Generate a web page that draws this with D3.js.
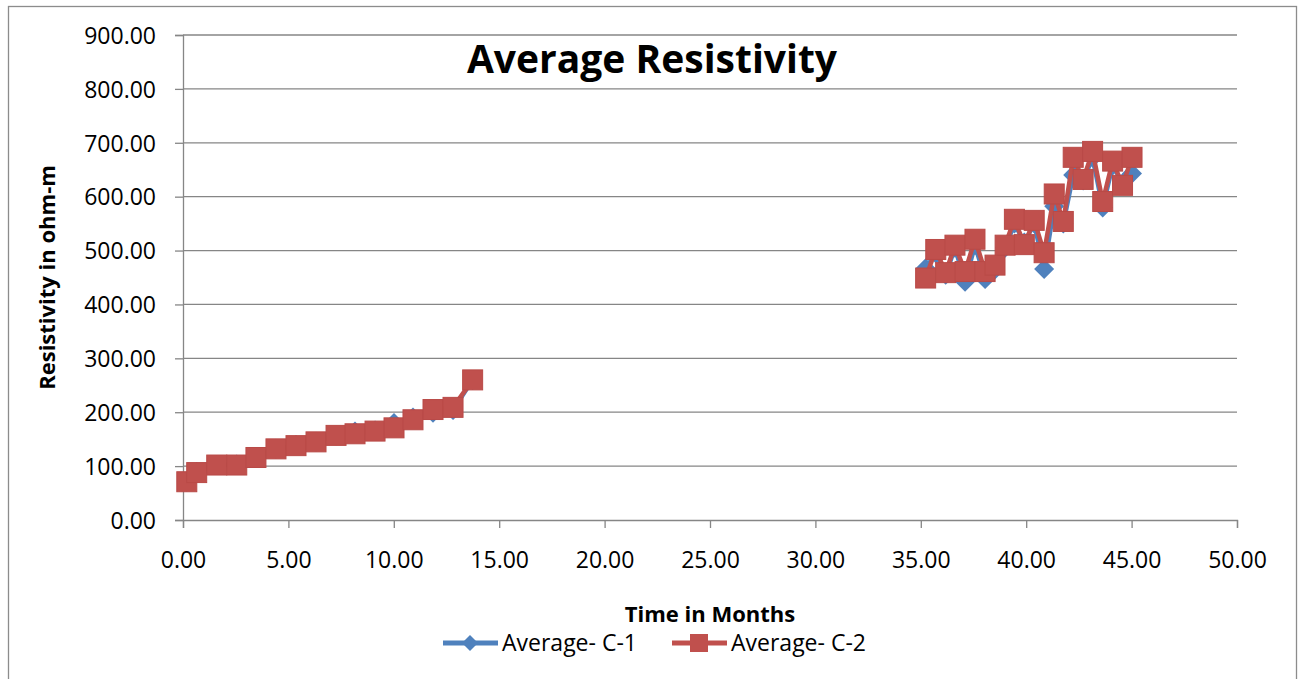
<!DOCTYPE html>
<html>
<head>
<meta charset="utf-8">
<script src="https://cdn.jsdelivr.net/npm/d3@7"></script>
<style>
	body { margin: 0; background: #ffffff; }
	svg { display: block; }
	text { font-family: "Open Sans", sans-serif; fill: #000; }
</style>
</head>
<body>
<script>
// months (null = empty cells between the two measuring campaigns)
var months = [0.18, 0.65, 1.60, 2.55, 3.46, 4.41, 5.36, 6.31, 7.26, 8.16, 9.11, 10.01, 10.91, 11.86, 12.81, 13.74,
	null,
	35.23, 35.71, 36.18, 36.62, 37.10, 37.57, 38.05, 38.52, 39.00, 39.44, 39.91, 40.38, 40.85, 41.33, 41.76,
	42.23, 42.70, 43.15, 43.63, 44.10, 44.57, 45.02];

var averageC1 = [71, 89, 102, 103, 116, 132, 139, 145, 157, 164, 166, 180, 190, 199, 204, 260,
	null,
	467, 495, 455, 505, 442, 510, 447, 465, 505, 550, 515, 550, 466, 582, 550,
	640, 630, 672, 580, 658, 625, 643];

var averageC2 = [71, 88, 102, 102, 116, 132, 138, 145, 157, 160, 165, 171, 186, 205, 209, 260,
	null,
	449, 502, 459, 510, 461, 521, 461, 473, 510, 558, 511, 556, 496, 605, 554,
	673, 632, 684, 591, 666, 621, 673];

var seriesNames = ["Average- C-1", "Average- C-2"];
var seriesColors = ["#4F81BD", "#C0504D"];
var xTicks = [0, 5, 10, 15, 20, 25, 30, 35, 40, 45, 50];
var yTicks = [0, 100, 200, 300, 400, 500, 600, 700, 800, 900];

var width = 1299, height = 679;
var plot = {left: 183, right: 1237, top: 35, bottom: 520};

var svg = d3.select("body").append("svg").attr("width", width).attr("height", height);

// chart frame
svg.append("rect")
	.attr("x", 8.5).attr("y", 6.5)
	.attr("width", 1288).attr("height", 700)
	.attr("fill", "#fff").attr("stroke", "#8c8c8c").attr("stroke-width", 1.3);

var x = d3.scaleLinear().domain([0, 50]).range([plot.left, plot.right]);
var y = d3.scaleLinear().domain([0, 900]).range([plot.bottom, plot.top]);

// gridlines
svg.append("g").selectAll("line")
	.data(yTicks.slice(1))
	.enter().append("line")
	.attr("x1", plot.left).attr("x2", plot.right)
	.attr("y1", function(d){ return y(d); }).attr("y2", function(d){ return y(d); })
	.attr("stroke", "#868686").attr("stroke-width", 1.3);

// axes
var yAxis = svg.append("g")
	.attr("transform", "translate(" + plot.left + ",0)")
	.call(d3.axisLeft(y).tickValues(yTicks).tickSize(8).tickPadding(19).tickFormat(d3.format(".2f")));
var xAxis = svg.append("g")
	.attr("transform", "translate(0," + plot.bottom + ")")
	.call(d3.axisBottom(x).tickValues(xTicks).tickSize(8).tickPadding(18).tickFormat(d3.format(".2f")));

[xAxis, yAxis].forEach(function(a){
	a.selectAll("path.domain").attr("stroke", "#868686").attr("stroke-width", 1.3);
	a.selectAll(".tick line").attr("stroke", "#868686").attr("stroke-width", 1.3);
	a.selectAll(".tick text").style("font-size", "23px").attr("fill", "#000");
});
yAxis.selectAll(".tick text").attr("dy", "0.36em");
xAxis.selectAll(".tick text").attr("dy", "0.95em");

// series
var allSeries = [averageC1, averageC2];
var line = d3.line()
	.defined(function(d){ return d[0] !== null && d[1] !== null; })
	.x(function(d){ return x(d[0]); })
	.y(function(d){ return y(d[1]); });

function diamondPath(s) {
	return "M0," + (-s) + "L" + s + ",0L0," + s + "L" + (-s) + ",0Z";
}

allSeries.forEach(function(values, i){
	var pts = months.map(function(m, k){ return [m, values[k]]; });
	var g = svg.append("g");
	g.append("path")
		.attr("d", line(pts))
		.attr("fill", "none")
		.attr("stroke", seriesColors[i])
		.attr("stroke-width", 4.5)
		.attr("stroke-linejoin", "round");
	var valid = pts.filter(function(d){ return d[0] !== null && d[1] !== null; });
	if (i === 0) {
		g.selectAll("path.marker").data(valid).enter().append("path")
			.attr("class", "marker")
			.attr("d", diamondPath(10))
			.attr("transform", function(d){ return "translate(" + x(d[0]) + "," + y(d[1]) + ")"; })
			.attr("fill", seriesColors[i]);
	} else {
		g.selectAll("rect.marker").data(valid).enter().append("rect")
			.attr("class", "marker")
			.attr("x", function(d){ return x(d[0]) - 10; })
			.attr("y", function(d){ return y(d[1]) - 10; })
			.attr("width", 20).attr("height", 20)
			.attr("fill", seriesColors[i])
			.attr("stroke", "#b94a47").attr("stroke-width", 1);
	}
});

// titles
svg.append("text")
	.attr("x", 652).attr("y", 59)
	.attr("text-anchor", "middle").attr("dy", "0.36em")
	.style("font-size", "39px").style("font-weight", "bold")
	.text("Average Resistivity");

svg.append("text")
	.attr("transform", "translate(47," + ((plot.top + plot.bottom) / 2) + ") rotate(-90)")
	.attr("text-anchor", "middle").attr("dy", "0.36em")
	.style("font-size", "22px").style("font-weight", "bold")
	.text("Resistivity in ohm-m");

svg.append("text")
	.attr("x", (plot.left + plot.right) / 2).attr("y", 614)
	.attr("text-anchor", "middle").attr("dy", "0.36em")
	.style("font-size", "22px").style("font-weight", "bold")
	.text("Time in Months");

// legend
var legendX = [443, 672];
var legend = svg.append("g");
seriesNames.forEach(function(name, i){
	var lx = legendX[i], ly = 643;
	legend.append("line")
		.attr("x1", lx).attr("x2", lx + 55)
		.attr("y1", ly).attr("y2", ly)
		.attr("stroke", seriesColors[i]).attr("stroke-width", 5);
	if (i === 0) {
		legend.append("path")
			.attr("d", diamondPath(8))
			.attr("transform", "translate(" + (lx + 27) + "," + ly + ")")
			.attr("fill", seriesColors[i]);
	} else {
		legend.append("rect")
			.attr("x", lx + 27 - 9).attr("y", ly - 9)
			.attr("width", 18).attr("height", 18)
			.attr("fill", seriesColors[i]);
	}
	legend.append("text")
		.attr("x", lx + 59).attr("y", ly)
		.attr("dy", "0.36em")
		.style("font-size", "23px")
		.text(name);
});
</script>
</body>
</html>
